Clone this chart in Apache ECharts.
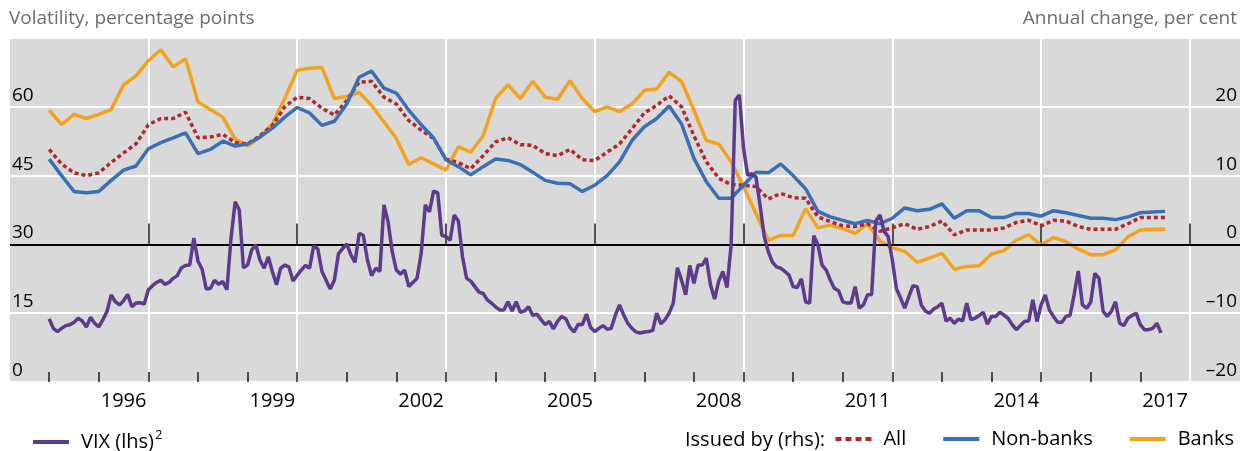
<!DOCTYPE html>
<html><head><meta charset="utf-8">
<script src="https://cdn.jsdelivr.net/npm/echarts@6/dist/echarts.min.js"></script>
<style>html,body{margin:0;padding:0;background:#fff}#c{width:1241px;height:451px}</style>
</head><body><div id="c"></div>
<script>
// ---- DATA ----
// VIX (lhs), monthly from January 1995
const vixStartYear = 1995;
const vix = [
 13.8,11.7,11.0,11.7,12.3,12.5,13.0,13.9,13.3,12.0,14.1,12.8,
 12.0,13.6,15.4,19.0,17.5,16.8,17.7,19.1,16.4,17.2,17.3,17.0,
 20.1,21.0,21.7,22.2,21.3,21.7,22.6,23.2,24.9,25.4,25.5,31.4,
 26.4,24.6,20.3,20.4,22.2,21.3,21.9,20.1,31.4,39.3,37.5,24.9,
 25.5,28.8,29.9,26.6,24.8,27.3,24.1,21.2,24.8,25.5,25.1,22.0,
 23.3,24.4,25.4,24.8,29.7,29.0,24.1,22.2,20.3,22.2,28.0,29.1,
 30.1,27.7,26.1,32.4,32.0,26.6,23.2,24.8,24.1,38.6,34.9,28.4,
 24.4,23.5,24.4,20.8,21.7,22.6,28.0,38.6,37.1,41.6,41.3,32.0,
 31.7,30.9,36.4,35.1,27.3,22.6,22.0,20.8,19.6,19.3,17.9,17.2,
 16.4,15.7,15.7,17.5,15.5,17.5,15.2,15.5,16.4,14.5,14.8,13.6,
 12.5,13.2,11.6,13.2,14.3,13.8,11.9,10.9,12.6,12.5,14.8,11.9,
 11.0,11.7,12.3,11.5,11.7,14.6,16.8,14.6,12.8,11.7,10.9,10.7,
 10.9,11.0,11.2,15.0,12.7,13.6,15.0,17.2,24.9,22.2,19.0,25.4,
 21.5,25.5,25.5,27.0,21.2,18.1,22.0,24.1,20.6,29.9,61.4,62.6,
 50.9,45.1,45.4,44.7,38.6,31.7,28.4,26.1,25.1,24.8,24.1,23.3,
 20.8,20.6,22.5,17.5,17.2,31.9,29.9,25.5,24.4,22.2,20.4,19.9,
 17.5,17.2,17.2,20.8,16.1,16.8,19.0,19.1,35.1,36.4,32.9,31.7,
 26.6,20.3,18.3,16.1,18.6,21.0,20.8,16.8,15.5,15.0,15.9,16.4,
 17.2,13.3,13.9,12.8,13.7,13.3,17.2,13.6,13.9,14.5,15.2,12.6,
 14.3,14.3,15.2,14.6,13.9,12.5,11.4,12.3,13.2,13.3,17.9,13.2,
 16.8,19.0,15.7,14.3,13.0,13.0,14.3,14.5,19.1,24.2,16.8,16.1,
 17.4,23.7,22.6,15.4,14.3,15.4,17.5,12.8,12.3,13.9,14.5,15.0,
 12.5,11.4,11.4,11.7,12.8,10.7
];
// Issued by (rhs), quarterly from 1995 Q1, annual change in per cent
const qStartYear = 1995;
const allIssuers = [
 13.8,11.7,10.4,10.0, 10.4,11.9,13.3,14.6, 17.4,18.3,18.3,19.2, 15.5,15.6,16.0,14.8,
 14.6,15.8,17.3,20.0, 21.4,21.2,19.8,18.8, 20.9,23.6,23.7,21.4, 20.4,18.0,16.6,15.4,
 12.4,11.9,11.0,12.9, 14.9,15.5,14.5,14.4, 13.2,12.9,13.8,12.3, 12.2,13.4,14.6,16.8,
 19.1,20.2,21.6,20.0, 15.8,12.0,9.6,8.7, 8.6,8.4,6.6,7.4, 6.8,6.7,4.0,3.3,
 2.7,2.6,3.0,1.9, 2.4,3.0,2.2,2.6, 3.4,1.4,2.1,2.1, 2.1,2.4,3.2,3.5,
 2.7,3.5,3.4,2.6, 2.2,2.2,2.2,3.0, 3.9,3.9,3.9
];
const nonBanks = [
 12.4,10.0,7.7,7.5, 7.7,9.3,10.8,11.4, 13.9,14.8,15.5,16.2, 13.2,13.8,15.0,14.3,
 14.6,15.6,16.9,18.5, 19.9,19.1,17.3,17.9, 20.4,24.3,25.2,22.7, 22.0,19.5,17.4,15.5,
 12.3,11.3,10.1,11.3, 12.4,12.2,11.6,10.5, 9.3,8.9,8.8,7.7, 8.6,10.0,12.0,15.1,
 17.1,18.3,20.1,17.5, 12.5,9.1,6.7,6.7, 8.6,10.5,10.4,11.7, 10.0,8.1,4.8,4.0,
 3.5,3.0,3.5,3.0, 3.8,5.3,4.9,5.1, 5.9,3.8,4.9,4.9, 3.9,3.9,4.5,4.5,
 4.1,4.9,4.6,4.2, 3.8,3.8,3.6,4.0, 4.6,4.7,4.8
];
const banks = [
 19.5,17.4,18.9,18.3, 18.9,19.6,23.2,24.5, 26.7,28.3,25.8,27.0, 20.7,19.6,18.5,15.3,
 14.3,15.6,17.5,21.2, 25.3,25.6,25.7,21.2, 21.5,22.1,20.2,17.8, 15.4,11.6,12.6,11.7,
 10.8,14.2,13.4,15.8, 21.2,23.2,21.2,23.7, 21.4,21.1,23.8,21.2, 19.3,20.0,19.3,20.4,
 22.4,22.6,25.0,23.7, 19.5,15.1,14.6,12.0, 8.4,4.5,0.6,1.3, 1.3,5.2,2.4,2.8,
 2.3,1.6,3.0,0.5, -0.5,-1.0,-2.6,-2.0, -1.3,-3.6,-3.2,-3.1, -1.4,-0.9,0.6,1.4,
 -0.1,1.0,0.4,-0.7, -1.5,-1.5,-0.8,1.1, 2.1,2.2,2.2
];
// Axis ticks and labels
const yearTicks = [1995,1996,1997,1998,1999,2000,2001,2002,2003,2004,2005,2006,2007,2008,2009,2010,2011,2012,2013,2014,2015,2016,2017];
const majorYearTicks = [1997,2000,2003,2006,2009,2012,2015,2018];
const yearLabels = [1996,1999,2002,2005,2008,2011,2014,2017];

// ---- CHART ----
const FONT = '"Open Sans", "Noto Sans", sans-serif';
const C = {vix:'#5c3b8c', all:'#b0282e', non:'#3b6fb5', banks:'#f1a320'};
const X_MIN = 1994.21, X_MAX = 2019.01;
const fmtMinus = v => v < 0 ? '\u2013' + Math.abs(v) : String(v);
const ICON_SOLID = 'path://M0,0H36V4H0Z';
const ICON_DOTTED = 'path://M0,0H6V4H0Z M10,0H16V4H10Z M20,0H26V4H20Z M30,0H36V4H30Z';

const chart = echarts.init(document.getElementById('c'));
const tickStyle = {color:'#1a1a1a', width:1.5};
const legendText = {fontFamily:FONT, fontSize:20, color:'#000', padding:[0,0,0,7]};
chart.setOption({
  animation:false,
  textStyle:{fontFamily:FONT},
  grid:{left:10, right:1, top:38, bottom:69, show:true, backgroundColor:'#d9d9d9', borderWidth:0},
  title:[
    {text:'Volatility, percentage points', left:9, top:9, padding:0,
     textStyle:{fontFamily:FONT, fontSize:19, fontWeight:'normal', color:'#6d6d6d'}},
    {text:'Annual change, per cent', right:4, top:9, padding:0,
     textStyle:{fontFamily:FONT, fontSize:19, fontWeight:'normal', color:'#6d6d6d'}}
  ],
  legend:[
    {data:[{name:'VIX (lhs)', icon:ICON_SOLID}], left:33, top:429, padding:0, itemWidth:36, itemHeight:4,
     formatter: n => '{a|' + n + '}{s|2}',
     textStyle:Object.assign({}, legendText, {
       rich:{a:{fontFamily:FONT, fontSize:20, color:'#000', lineHeight:26},
             s:{fontFamily:FONT, fontSize:13, color:'#000', lineHeight:26, verticalAlign:'top', padding:[0,0,0,1]}}})},
    {data:[{name:'All', icon:ICON_DOTTED},{name:'Non-banks', icon:ICON_SOLID},{name:'Banks', icon:ICON_SOLID}],
     right:7, top:429, padding:0, itemWidth:36, itemHeight:4, itemGap:37,
     textStyle:legendText}
  ],
  graphic:[
    {type:'text', left:685, top:430, style:{text:'Issued by (rhs):', font:'20px ' + FONT, fill:'#000'}}
  ],
  xAxis:[
    {type:'value', min:X_MIN, max:X_MAX, position:'bottom',
     axisLine:{show:false},
     axisTick:{show:true, inside:true, length:10, customValues:yearTicks, lineStyle:tickStyle},
     axisLabel:{show:true, customValues:yearLabels.map(y => y + 0.5), formatter: v => String(Math.floor(v)),
       fontFamily:FONT, fontSize:20, color:'#000', margin:9},
     splitLine:{show:false}},
    {type:'value', min:X_MIN, max:X_MAX, position:'bottom',
     axisLine:{show:false},
     axisTick:{show:true, inside:true, length:21, customValues:majorYearTicks, lineStyle:tickStyle},
     axisLabel:{show:false},
     splitLine:{show:true, lineStyle:{color:'#ffffff', width:2}}}
  ],
  yAxis:[
    {type:'value', min:0, max:75, interval:15, position:'left',
     axisLine:{show:false}, axisTick:{show:false},
     axisLabel:{inside:true, showMaxLabel:false, fontFamily:FONT, fontSize:19, color:'#000',
       verticalAlign:'bottom', align:'left', margin:2, padding:[0,0,2,0]},
     splitLine:{show:true, lineStyle:{color:'#ffffff', width:2}}},
    {type:'value', min:-20, max:30, interval:10, position:'right',
     axisLine:{show:false}, axisTick:{show:false},
     axisLabel:{inside:true, showMaxLabel:false, fontFamily:FONT, fontSize:19, color:'#000',
       verticalAlign:'bottom', align:'right', margin:3, padding:[0,0,2,0], formatter:fmtMinus},
     splitLine:{show:false}}
  ],
  series:[
    {name:'zero', type:'line', yAxisIndex:1, data:[], z:1,
     markLine:{silent:true, symbol:'none', label:{show:false},
       lineStyle:{color:'#000', width:2, type:'solid'}, data:[{yAxis:0}]}},
    {name:'Banks', type:'line', yAxisIndex:1, symbol:'none', z:3,
     data: banks.map((v,i) => [qStartYear + i*0.25, v]),
     lineStyle:{color:C.banks, width:3.5}, itemStyle:{color:C.banks}},
    {name:'All', type:'line', yAxisIndex:1, symbol:'none', z:4,
     data: allIssuers.map((v,i) => [qStartYear + i*0.25, v]),
     lineStyle:{color:C.all, width:3.5, type:[4,3]}, itemStyle:{color:C.all}},
    {name:'Non-banks', type:'line', yAxisIndex:1, symbol:'none', z:5,
     data: nonBanks.map((v,i) => [qStartYear + i*0.25, v]),
     lineStyle:{color:C.non, width:3.5}, itemStyle:{color:C.non}},
    {name:'VIX (lhs)', type:'line', yAxisIndex:0, symbol:'none', z:6,
     data: vix.map((v,i) => [vixStartYear + i/12, v]),
     lineStyle:{color:C.vix, width:3.5}, itemStyle:{color:C.vix}}
  ]
});
</script></body></html>
